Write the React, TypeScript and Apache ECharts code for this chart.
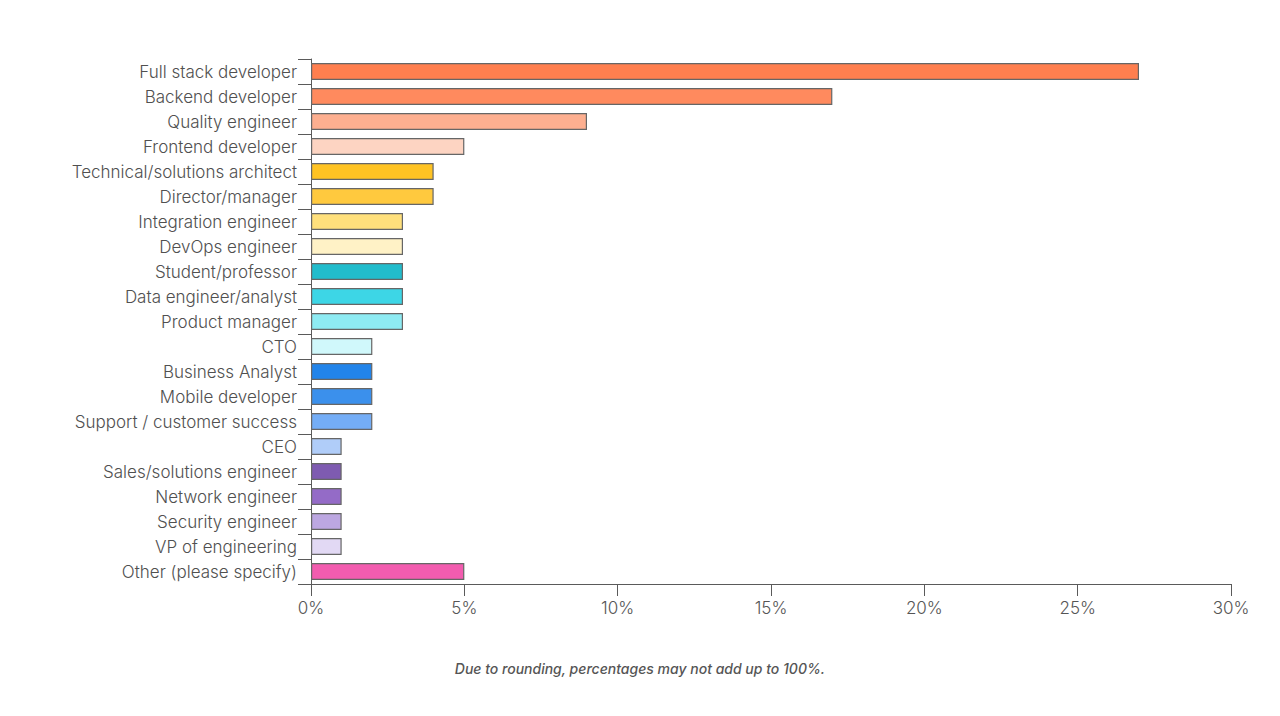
import React, { useEffect, useRef } from "react";
import * as echarts from "echarts";

const roles = [
  "Full stack developer",
  "Backend developer",
  "Quality engineer",
  "Frontend developer",
  "Technical/solutions architect",
  "Director/manager",
  "Integration engineer",
  "DevOps engineer",
  "Student/professor",
  "Data engineer/analyst",
  "Product manager",
  "CTO",
  "Business Analyst",
  "Mobile developer",
  "Support / customer success",
  "CEO",
  "Sales/solutions engineer",
  "Network engineer",
  "Security engineer",
  "VP of engineering",
  "Other (please specify)",
];

const shares = [27, 17, 9, 5, 4, 4, 3, 3, 3, 3, 3, 2, 2, 2, 2, 1, 1, 1, 1, 1, 5];

const barColors = [
  "#FF7F4F",
  "#FF8A5E",
  "#FDAF90",
  "#FDD4C2",
  "#FFC323",
  "#FFC93E",
  "#FFE07C",
  "#FFF2C6",
  "#22BCCC",
  "#3DD6E6",
  "#8EEBF3",
  "#D0F8FB",
  "#2284EA",
  "#3B90EC",
  "#74ADF6",
  "#B0CDF9",
  "#7E5BB1",
  "#946BC7",
  "#BCA7E1",
  "#E2D9F4",
  "#F25CAF",
];

const xTicks = [0, 5, 10, 15, 20, 25, 30];

const footnote = "Due to rounding, percentages may not add up to 100%.";

export default function App() {
  const ref = useRef<HTMLDivElement>(null);

  useEffect(() => {
    if (!ref.current) return;
    const chart = echarts.init(ref.current, null, { renderer: "svg" });
    const font = "Inter, 'Noto Sans', sans-serif";
    chart.setOption({
      animation: false,
      backgroundColor: "#ffffff",
      textStyle: { fontFamily: font },
      grid: { left: 311, right: 49, top: 59, bottom: 132, containLabel: false },
      xAxis: {
        type: "value",
        min: xTicks[0],
        max: xTicks[xTicks.length - 1],
        interval: 5,
        axisLine: { show: true, lineStyle: { color: "#5a5a5a", width: 1 } },
        axisTick: { show: true, length: 12, lineStyle: { color: "#5a5a5a" } },
        splitLine: { show: false },
        axisLabel: {
          color: "#555555",
          fontSize: 17,
          fontWeight: 300,
          fontFamily: font,
          margin: 15,
          formatter: "{value}%",
        },
      },
      yAxis: {
        type: "category",
        inverse: true,
        data: roles,
        axisLine: { show: true, lineStyle: { color: "#5a5a5a", width: 1 } },
        axisTick: {
          show: true,
          length: 13,
          alignWithLabel: false,
          lineStyle: { color: "#5a5a5a" },
        },
        axisLabel: {
          color: "#505050",
          fontSize: 17,
          fontWeight: 300,
          fontFamily: font,
          margin: 14,
          padding: [0, 0, 2, 0],
        },
      },
      series: [
        {
          type: "bar",
          data: shares.map((v, i) => ({
            value: v,
            itemStyle: { color: barColors[i] },
          })),
          barWidth: 17,
          itemStyle: { borderColor: "#666666", borderWidth: 1.2 },
        },
      ],
      graphic: [
        {
          type: "text",
          left: "center",
          top: 661,
          style: {
            text: footnote,
            fill: "#555555",
            font: `italic 500 14px ${font}`,
          },
        },
      ],
    });
    return () => chart.dispose();
  }, []);

  return (
    <div
      ref={ref}
      style={{ position: "fixed", left: 0, top: 0, width: 1280, height: 716 }}
    />
  );
}
